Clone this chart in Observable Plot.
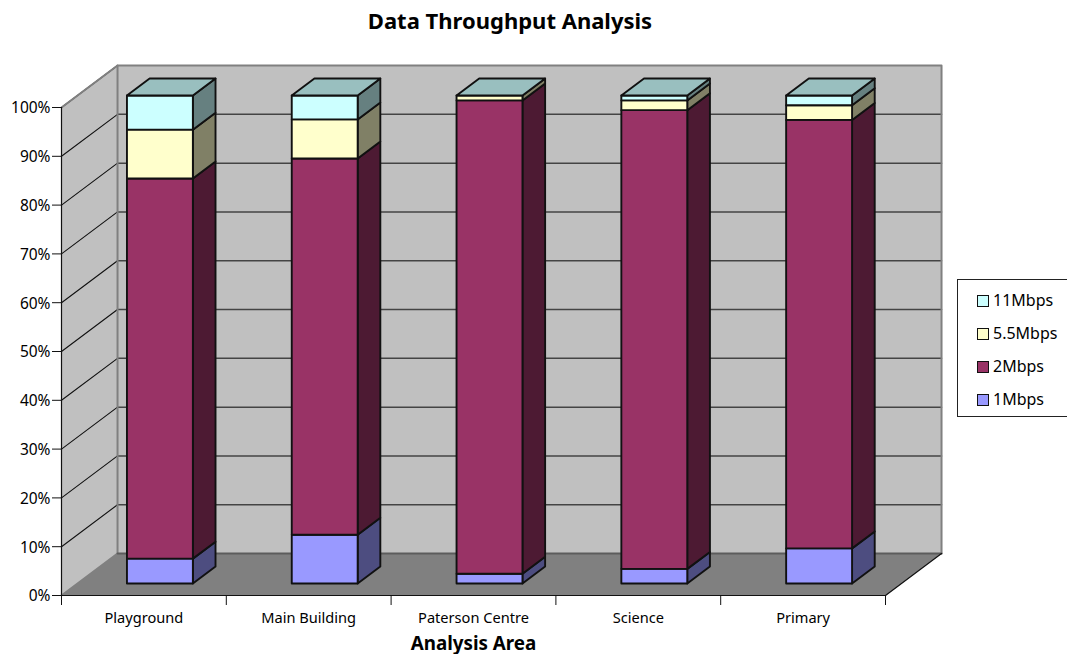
<!DOCTYPE html>
<html>
<head>
<meta charset="utf-8">
<script src="https://cdn.jsdelivr.net/npm/d3@7"></script>
<script src="https://cdn.jsdelivr.net/npm/@observablehq/plot@0.6"></script>
<style>
  html, body { margin: 0; padding: 0; background: #fff; }
  #page { position: relative; width: 1067px; height: 654px; overflow: hidden; font-family: "Noto Sans", sans-serif; color: #000; }
  #title { height: 44px; line-height: 41px; width: 1020px; text-align: center; font-weight: bold; font-size: 22px; }
  #chart svg { display: block; }
  #legend { position: absolute; left: 957px; top: 279px; width: 120px; height: 131px; padding-top: 5px; border: 1px solid #222; background: #fff; font-size: 16px; }
  .entry { position: absolute; left: 19px; height: 33px; line-height: 31px; white-space: nowrap; }
  .entry i { display: inline-block; width: 10px; height: 10px; border: 1.5px solid #111; margin-right: 4px; vertical-align: -1px; }
</style>
</head>
<body>
<div id="page">
  <div id="title">Data Throughput Analysis</div>
  <div id="chart"></div>
  <div id="legend"></div>
</div>
<script>
// Share of traffic per link speed, in percent, for each analysis area.
const areas = ["Playground", "Main Building", "Paterson Centre", "Science", "Primary"];
const mbps1 = [5.1, 10.0, 2.0, 3.0, 7.2];
const mbps2 = [77.9, 77.1, 97.0, 94.0, 87.8];
const mbps55 = [10.0, 8.0, 1.0, 2.0, 3.0];
const mbps11 = [7.0, 4.9, 0.0, 1.0, 2.0];
const yTicks = [0, 10, 20, 30, 40, 50, 60, 70, 80, 90, 100];

const series = [
  {name: "1Mbps", values: mbps1, front: "#9999ff", side: "#4d4d80"},
  {name: "2Mbps", values: mbps2, front: "#993366", side: "#4d1a33"},
  {name: "5.5Mbps", values: mbps55, front: "#ffffcc", side: "#808066"},
  {name: "11Mbps", values: mbps11, front: "#ccffff", side: "#668080", top: "#99bfbf"}
];

// Oblique projection: depth d (0 front, 1 back) shifts a point along both data axes.
const shiftX = 0.34;
const shiftY = 8.6;
const at = (c, v, d) => ({x: c + d * shiftX, y: v + d * shiftY});
const quad = (id, fill, stroke, pts) => pts.concat(pts[0]).map((p) => ({...p, id, fill, stroke}));

// Walls and floor of the box.
const box = [
  ...quad("floor", "#808080", "none", [at(0, 0, 0), at(5, 0, 0), at(5, 0, 1), at(0, 0, 1)]),
  ...quad("side", "#c0c0c0", "none", [at(0, 0, 0), at(0, 0, 1), at(0, 100, 1), at(0, 100, 0)]),
  ...quad("back", "#c0c0c0", "none", [at(0, 0, 1), at(5, 0, 1), at(5, 100, 1), at(0, 100, 1)])
];

// Bars: side, front and top faces, stacked from the slowest speed up.
const barWidth = 0.4;
const nearD = 0.2857;
const farD = 0.69;
const faces = [];
areas.forEach((_, i) => {
  const x0 = i + (1 - barWidth) / 2;
  const x1 = x0 + barWidth;
  let base = 0;
  series.forEach((s, k) => {
    const tip = base + s.values[i];
    const key = `${i}-${k}`;
    if (tip > base) {
      faces.push(...quad(`side-${key}`, s.side, "#111", [at(x1, base, nearD), at(x1, base, farD), at(x1, tip, farD), at(x1, tip, nearD)]));
      faces.push(...quad(`front-${key}`, s.front, "#111", [at(x0, base, nearD), at(x1, base, nearD), at(x1, tip, nearD), at(x0, tip, nearD)]));
    }
    if (s.top) faces.push(...quad(`top-${key}`, s.top, "#111", [at(x0, tip, nearD), at(x1, tip, nearD), at(x1, tip, farD), at(x0, tip, farD)]));
    base = tip;
  });
});

const faceLine = (data, strokeWidth) => Plot.line(data, {
  x: "x", y: "y", z: "id", fill: "fill", stroke: "stroke", strokeWidth, curve: "linear"
});
const segment = (rows, stroke, strokeWidth) => Plot.line(rows, {
  x: "x", y: "y", z: "id", stroke, strokeWidth, curve: "linear"
});

const level = (v) => [at(0, v, 1), at(5, v, 1)].map((p) => ({...p, id: v}));
const slant = (v) => [at(0, v, 0), at(0, v, 1)].map((p) => ({...p, id: v}));
const tag = (id, pts) => pts.map((p) => ({...p, id}));

const chart = Plot.plot({
  width: 1067,
  height: 610,
  marginLeft: 61,
  marginRight: 182,
  marginTop: 63,
  marginBottom: 59,
  style: {fontFamily: "'Noto Sans', sans-serif", background: "transparent", color: "#000", overflow: "visible"},
  x: {domain: [0, 5], axis: null},
  y: {domain: [0, 100], axis: null},
  marks: [
    faceLine(box, 0),
    // Back wall gridlines and the slanted lines on the side wall.
    segment(yTicks.slice(1, -1).flatMap(level), "#444", 1.5),
    segment(yTicks.slice(1).flatMap(slant), "#111", 1.1),
    // Wall and floor outlines.
    segment(tag("rim", [at(0, 0, 0), at(0, 0, 1), at(0, 100, 1), at(5, 100, 1), at(5, 0, 1)]), "#808080", 2),
    segment(tag("rimTop", [at(0, 100, 0), at(0, 100, 1)]), "#808080", 2),
    segment(tag("floorBack", [at(0, 0, 1), at(5, 0, 1)]), "#5c5c5c", 2),
    segment(tag("floorEdge", [at(5, 0, 0), at(5, 0, 1)]), "#111", 1.2),
    faceLine(faces, 1.9),
    // Axis lines and ticks.
    Plot.ruleX([0], {y1: 0, y2: 100, stroke: "#111", strokeWidth: 1.2}),
    Plot.ruleY([0], {x1: 0, x2: 5, stroke: "#111", strokeWidth: 1.2}),
    Plot.axisY({ticks: yTicks, tickFormat: () => "", tickSize: 9, stroke: "#111", label: null}),
    Plot.axisY({ticks: yTicks, tickFormat: (d) => d + "%", tickSize: 0, tickPadding: 11, dy: 1, fontSize: 15.5, label: null}),
    Plot.axisX({ticks: [0, 1, 2, 3, 4, 5], tickFormat: () => "", tickSize: 10, stroke: "#111", label: null}),
    Plot.axisX({ticks: areas.map((_, i) => i + 0.5), tickFormat: (d) => areas[Math.floor(d)], tickSize: 0, tickPadding: 17, fontSize: 14.6, label: null}),
    Plot.text(["Analysis Area"], {frameAnchor: "bottom", dy: 54, fontSize: 18.8, fontWeight: "bold", fill: "#000"})
  ]
});
document.getElementById("chart").append(chart);

// Legend entries, fastest speed first.
const legend = document.getElementById("legend");
[...series].reverse().forEach((s, i) => {
  const row = document.createElement("div");
  row.className = "entry";
  row.style.top = `${5 + i * 33}px`;
  const swatch = document.createElement("i");
  swatch.style.background = s.front;
  row.append(swatch, s.name);
  legend.append(row);
});
</script>
</body>
</html>
